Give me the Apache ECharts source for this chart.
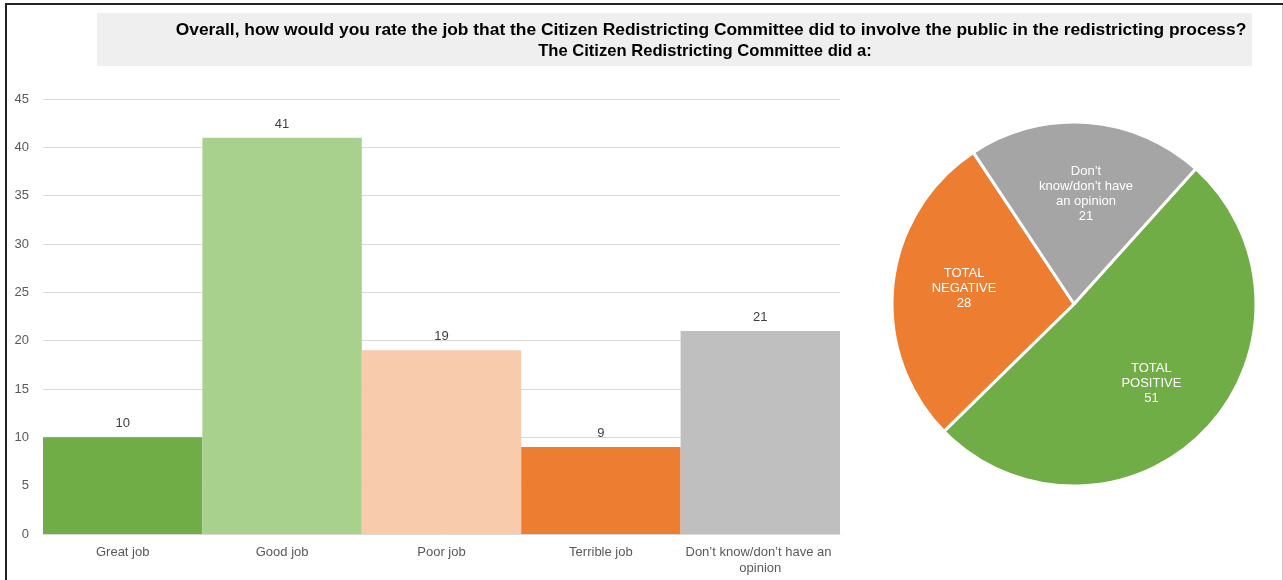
<!DOCTYPE html>
<html>
<head>
<meta charset="utf-8">
<script src="https://cdn.jsdelivr.net/npm/echarts@6/dist/echarts.min.js"></script>
<style>
  html, body { margin: 0; padding: 0; background: #fff; }
  #chart { width: 1283px; height: 580px; }
</style>
</head>
<body>
<div id="chart"></div>
<script>
// Survey answers: how the committee did at involving the public
const categories = ['Great job', 'Good job', 'Poor job', 'Terrible job', 'Don\u2019t know/don\u2019t have an opinion'];
const ratingValues = [10, 41, 19, 9, 21];
const barColors = ['#70ad47', '#a9d18e', '#f8cbad', '#ed7d31', '#bfbfbf'];

// Grouped totals for the pie
const totalNames = ['TOTAL\nPOSITIVE', 'TOTAL\nNEGATIVE', 'Don\u2019t\nknow/don\u2019t have\nan opinion'];
const totalValues = [51, 28, 21];
const pieColors = ['#70ad47', '#ed7d31', '#a5a5a5'];

const yTicks = { min: 0, max: 45, interval: 5 };

const titleLine1 = 'Overall, how would you rate the job that the Citizen Redistricting Committee did to involve the public in the redistricting process?';
const titleLine2 = 'The Citizen Redistricting Committee did a:';

const FONT = '"Liberation Sans", Arial, Helvetica, sans-serif';

const chart = echarts.init(document.getElementById('chart'), null, { renderer: 'canvas' });

const pieData = totalNames.map((n, i) => ({
  name: n, value: totalValues[i], itemStyle: { color: pieColors[i] }
}));

chart.setOption({
  animation: false,
  textStyle: { fontFamily: FONT },
  graphic: [
    { type: 'rect', shape: { x: 97, y: 13, width: 1155, height: 53 }, style: { fill: '#efefef' }, z: 0 },
    { type: 'text', x: 711, y: 30, style: { text: titleLine1, font: 'bold 17.4px ' + FONT, fill: '#000', textAlign: 'center', textVerticalAlign: 'middle' }, z: 1 },
    { type: 'text', x: 705, y: 51, style: { text: titleLine2, font: 'bold 16.6px ' + FONT, fill: '#000', textAlign: 'center', textVerticalAlign: 'middle' }, z: 1 },
    // frame
    { type: 'line', shape: { x1: 5, y1: 4, x2: 1283, y2: 4 }, style: { stroke: '#222', lineWidth: 2 }, z: 5 },
    { type: 'line', shape: { x1: 6, y1: 3, x2: 6, y2: 580 }, style: { stroke: '#222', lineWidth: 2 }, z: 5 },
    { type: 'line', shape: { x1: 1282.5, y1: 5, x2: 1282.5, y2: 580 }, style: { stroke: '#c8c8c8', lineWidth: 1 }, z: 5 }
  ],
  grid: { left: 43, top: 99, width: 797, height: 435, containLabel: false },
  xAxis: {
    type: 'category',
    data: categories,
    axisLine: { show: true, lineStyle: { color: '#d9d9d9', width: 1 } },
    axisTick: { show: false },
    axisLabel: {
      color: '#595959', fontSize: 13, fontFamily: FONT, margin: 10,
      interval: 0, width: 176, overflow: 'break', lineHeight: 16
    }
  },
  yAxis: {
    type: 'value',
    min: yTicks.min, max: yTicks.max, interval: yTicks.interval,
    axisLine: { show: false },
    axisTick: { show: false },
    splitLine: { lineStyle: { color: '#d9d9d9', width: 1 } },
    axisLabel: { color: '#595959', fontSize: 13, fontFamily: FONT, margin: 14 }
  },
  series: [
    {
      type: 'bar',
      data: ratingValues.map((v, i) => ({ value: v, itemStyle: { color: barColors[i] } })),
      barWidth: '100%',
      barCategoryGap: '0%',
      label: { show: true, position: 'top', distance: 7, color: '#404040', fontSize: 13, fontFamily: FONT },
      z: 2
    },
    {
      type: 'pie',
      center: [1074, 304],
      radius: [0, 182],
      startAngle: 48,
      clockwise: true,
      data: pieData,
      itemStyle: { borderColor: '#fff', borderWidth: 3 },
      label: { show: false },
      labelLine: { show: false },
      emphasis: { disabled: true },
      silent: true
    },
    {
      // label layer: larger transparent ring places the slice labels further out
      type: 'pie',
      center: [1074, 304],
      radius: [0, 216],
      startAngle: 46,
      clockwise: true,
      data: pieData.map(d => ({ name: d.name, value: d.value, itemStyle: { color: 'rgba(0,0,0,0)' } })),
      itemStyle: { borderWidth: 0 },
      label: {
        show: true, position: 'inside', color: '#fff', fontSize: 13, fontFamily: FONT,
        lineHeight: 15, align: 'center',
        formatter: p => p.name + '\n' + p.value
      },
      labelLine: { show: false },
      emphasis: { disabled: true },
      silent: true,
      z: 3
    }
  ]
});
</script>
</body>
</html>
